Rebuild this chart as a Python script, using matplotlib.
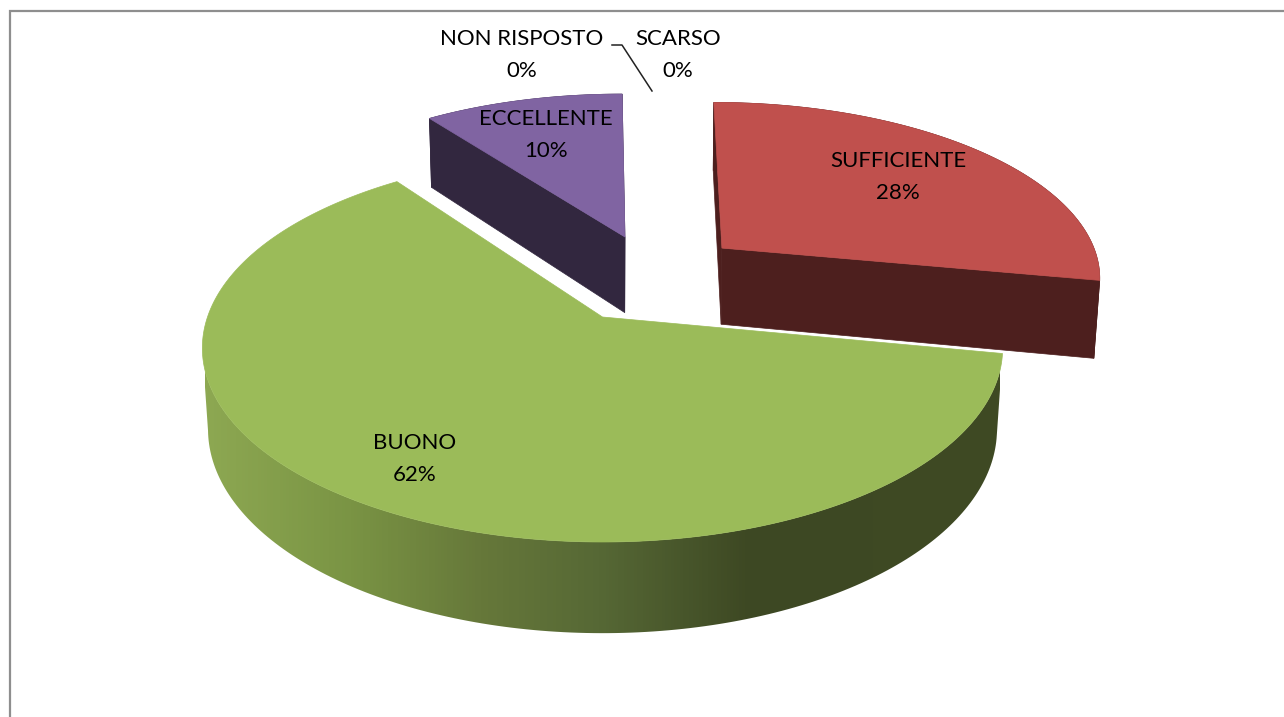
import numpy as np
import matplotlib
matplotlib.use('Agg')
import matplotlib.pyplot as plt
from matplotlib.colors import LinearSegmentedColormap
from matplotlib.patches import Polygon

# Dati
categorie = ['SUFFICIENTE', 'BUONO', 'ECCELLENTE', 'NON RISPOSTO', 'SCARSO']
valori = [28, 62, 10, 0, 0]

# Geometria della torta in prospettiva (pixel)
CY = 317
A, B = 189, 395
K = 0.16
DEPTH = 81
M = 0.014
# punto di fuga x e spostamento della fetta (u, v)
OFFSET = {'SUFFICIENTE': (660, 0.1665, -0.3873), 'BUONO': (602.5, 0.0, 0.0), 'ECCELLENTE': (603, 0.0597, -0.454)}
TOP_COL = {'SUFFICIENTE': '#C0504D', 'BUONO': '#9BBB59', 'ECCELLENTE': '#8064A2'}
WALL_COL = {'SUFFICIENTE': '#4D1F1E', 'ECCELLENTE': '#32273F'}
LABEL_POS = {'SUFFICIENTE': (898, 177), 'BUONO': (415, 459), 'ECCELLENTE': (546, 135),
             'NON RISPOSTO': (522, 55), 'SCARSO': (678, 55)}


def proj(off, u, v, z=0.0):
    w = 1 - K * (off[2] + v) + M * z
    return off[0] + B * (off[1] + u) / w, CY + (A * (off[2] + v) + DEPTH * z) / w


def arc(off, a0, a1, z=0.0):
    th = np.radians(np.linspace(a0, a1, 240))
    return proj(off, np.sin(th), -np.cos(th), z)


def top_poly(off, a0, a1):
    x, y = arc(off, a0, a1)
    cx, cy = proj(off, 0, 0)
    return np.column_stack([np.r_[cx, x], np.r_[cy, y]])


def wall_arc(off, a0, a1):
    x0, y0 = arc(off, a0, a1)
    x1, y1 = arc(off, a0, a1, 1.0)
    return np.column_stack([np.r_[x0, x1[::-1]], np.r_[y0, y1[::-1]]])


def wall_silhouette(off, a0, a1):
    # arco superiore e inferiore tagliati ciascuno al punto piu a sinistra
    x0, y0 = arc(off, a0, a1)
    x1, y1 = arc(off, a0, a1, 1.0)
    i0, i1 = np.argmin(x0), np.argmin(x1)
    return np.column_stack([np.r_[x0[:i0 + 1], x1[:i1 + 1][::-1]], np.r_[y0[:i0 + 1], y1[:i1 + 1][::-1]]])


def wall_rad(off, a):
    th = np.radians(a)
    eu, ev = np.sin(th), -np.cos(th)
    return np.array([proj(off, 0, 0), proj(off, eu, ev), proj(off, eu, ev, 1.0), proj(off, 0, 0, 1.0)])


fig = plt.figure(figsize=(12.84, 7.17), dpi=100)
ax = fig.add_axes([0, 0, 1, 1])
ax.set_xlim(0, 1284)
ax.set_ylim(717, 0)
ax.axis('off')

# Angoli cumulati dai valori, in senso orario dalle ore 12
totale = sum(valori)
fine = np.cumsum(valori) / totale * 360
inizio = np.r_[0, fine[:-1]]
ang = {c: (a0, a1) for c, a0, a1 in zip(categorie, inizio, fine) if a1 > a0}

green = LinearSegmentedColormap.from_list('wall', [(0, '#8DA852'), (0.182, '#7A9444'), (0.346, '#66783A'),
                                                   (0.497, '#566835'), (0.686, '#3D4823'), (1, '#3F4A23')])

for nome in ['ECCELLENTE', 'SUFFICIENTE', 'BUONO']:
    a0, a1 = ang[nome]
    off = OFFSET[nome]
    if nome == 'BUONO':
        xy = wall_silhouette(off, a0, a1)
        im = ax.imshow(np.linspace(0, 1, 256).reshape(1, -1), cmap=green, aspect='auto',
                       extent=[205, 1000, 720, 0], zorder=2)
        p = Polygon(xy, closed=True, transform=ax.transData, fc='none', ec='none')
        ax.add_patch(p)
        im.set_clip_path(p)
        ax.set_xlim(0, 1284)
        ax.set_ylim(717, 0)
    else:
        z = 1 if nome == 'ECCELLENTE' else 3
        col = WALL_COL[nome]
        ax.add_patch(Polygon(wall_arc(off, a0, a1), fc=col, ec=col, lw=0.5, zorder=z))
        ax.add_patch(Polygon(wall_rad(off, a0), fc=col, ec=col, lw=0.5, zorder=z))
        ax.add_patch(Polygon(wall_rad(off, a1), fc=col, ec=col, lw=0.5, zorder=z))
    top_z = {'ECCELLENTE': 1.5, 'SUFFICIENTE': 3.5, 'BUONO': 4}[nome]
    ax.add_patch(Polygon(top_poly(off, a0, a1), fc=TOP_COL[nome], ec=TOP_COL[nome], lw=0.5, zorder=top_z))

# Etichette
for nome, val in zip(categorie, valori):
    x, y = LABEL_POS[nome]
    ax.text(x, y, f'{nome}\n{val}%', ha='center', va='center', family='Lato', fontsize=16,
            color='black', linespacing=1.72, zorder=6)

# Linea guida e cornice
ax.plot([612, 622, 652], [45, 45, 91], color='#222222', lw=1.1, zorder=5)
ax.plot([9.5, 9.5, 1284], [717, 10.5, 10.5], color='#8E8E8E', lw=1.6, zorder=5, solid_joinstyle='miter')

fig.savefig('out.png', dpi=100)
